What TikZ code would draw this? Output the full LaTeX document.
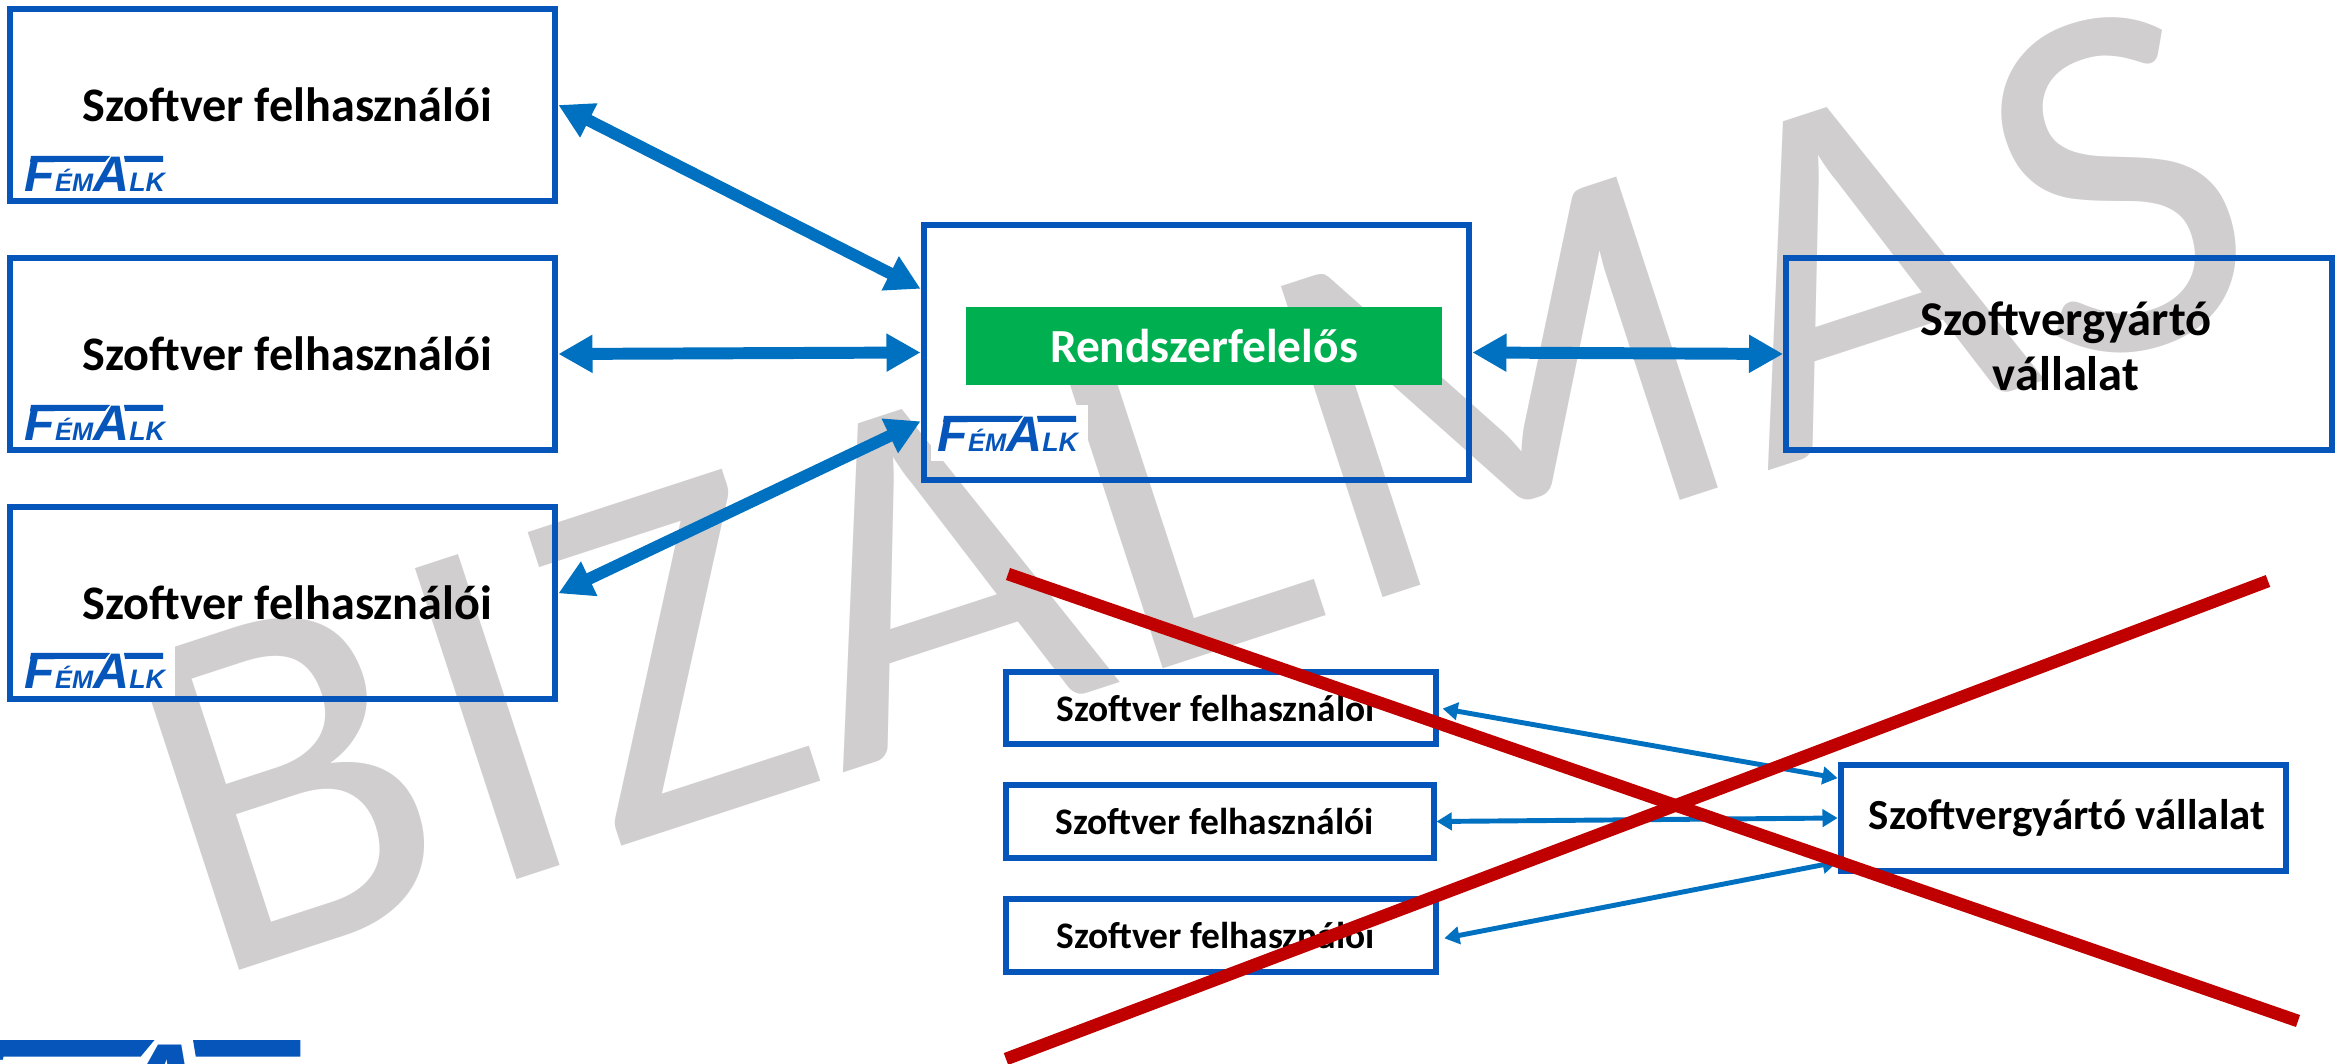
\documentclass[tikz,border=0pt]{standalone}
\usepackage{fontspec}
\setmainfont{Carlito}
\newfontfamily\logofont{Liberation Sans}
\newfontfamily\vizjelfont[LetterSpace=1.8]{Carlito}
\usetikzlibrary{arrows.meta}
\definecolor{kek}{HTML}{0555BB}
\definecolor{nyil}{HTML}{0070C0}
\definecolor{zold}{HTML}{00B050}
\definecolor{voros}{HTML}{C00000}
\definecolor{szurke}{HTML}{D0CECE}
\begin{document}
\begin{tikzpicture}[x=0.01cm, y=-0.01cm]
	\tikzset{
		doboz/.style={rectangle, draw=kek, line width=1.7pt, inner sep=0pt, align=center, font=\bfseries\fontsize{13.7}{15.7}\selectfont},
		nagy/.style={doboz, minimum width=5.455cm, minimum height=1.925cm, execute at begin node={\hspace*{2.8pt}}},
		kicsi/.style={doboz, minimum width=4.30cm, minimum height=0.725cm, font=\bfseries\fontsize{10.65}{12}\selectfont, execute at end node={\hspace*{3pt}}},
		nyilnagy/.style={{Triangle[length=9.7pt, width=10.2pt]}-{Triangle[length=9.7pt, width=10.2pt]}, nyil, line width=3.4pt},
		nyilkicsi/.style={{Triangle[length=4.3pt, width=4.9pt]}-{Triangle[length=4.3pt, width=4.9pt]}, nyil, line width=1.4pt},
		athuzas/.style={voros, line width=3.6pt},
		pics/femalk/.style={code={
			\fill[white] (-6,9) rectangle (151,-47);
			\node[anchor=base west, inner sep=0pt, text=kek, font=\logofont\bfseries\itshape\fontsize{14.2}{14}\selectfont] (-nev) at (0,0)
				{F{\fontsize{7.2}{7}\selectfont ÉM}A{\fontsize{7.6}{7}\selectfont LK}};
			\fill[kek] (7,-36) -- (86,-36) -- (81,-30) -- (6,-30) -- cycle;
			\fill[kek] (100,-36) -- (139,-36) -- (139,-30) -- (101,-30) -- cycle;
		}}
	};
	\useasboundingbox (0,0) rectangle (2338,1064);

	\node[anchor=base west, rotate=18.1, inner sep=0pt, text=szurke, font=\vizjelfont\fontsize{145}{145}\selectfont] (vizjel) at (205,982) {BIZALMAS};

	\pic (l1) at (24,192) {femalk};
	\pic (l2) at (24,441) {femalk};
	\pic (l3) at (24,689) {femalk};
	\pic (l4) at (937,452) {femalk};
	\pic[scale=2.75, transform shape] (l5) at (-82,1139) {femalk};

	\node[nagy] (f1) at (282.5,  105) {Szoftver felhasználói};
	\node[nagy] (f2) at (282.5,  354) {Szoftver felhasználói};
	\node[nagy] (f3) at (282.5,  603) {Szoftver felhasználói};
	\node[nagy, minimum height=2.555cm] (rsz) at (1196.5,352.5) {};
	\node[nagy] (gyarto) at (2059,  354) {};
	\node[doboz, draw=none, font=\bfseries\fontsize{13.8}{15.7}\selectfont] (gyartotxt) at (2066,  346) {Szoftvergyártó\\vállalat};
	\node[minimum width=4.76cm, minimum height=0.78cm, inner sep=0pt, fill=zold, text=white, font=\bfseries\fontsize{13.5}{15}\selectfont] (zold) at (1204,  346) {Rendszerfelelős};

	\node[kicsi] (k1) at (1221,  708) {Szoftver felhasználói};
	\node[kicsi, minimum width=4.27cm] (k2) at (1220,  821.5) {Szoftver felhasználói};
	\node[kicsi] (k3) at (1221,  935.5) {Szoftver felhasználói};
	\node[doboz, minimum width=4.455cm, minimum height=1.065cm, font=\bfseries\fontsize{12.2}{15}\selectfont, execute at begin node={\hspace*{2pt}}] (kgyarto) at (2063.5,  818) {Szoftvergyártó vállalat};

	\draw[nyilnagy] (f1.east) to (rsz.167);
	\draw[nyilnagy] (f2.east) to (rsz.west);
	\draw[nyilnagy] (f3.2) to (rsz.194);
	\draw[nyilnagy] (rsz.east) to (gyarto.west);

	\draw[nyilkicsi, shorten <=1pt] (k1.east) to (kgyarto.170);
	\draw[nyilkicsi] (k2.east) to (kgyarto.west);
	\draw[nyilkicsi, shorten <=1.5pt] (k3.-1) to (kgyarto.191);

	\coordinate (v1a) at (1008,574);
	\coordinate (v1b) at (2298,1021);
	\coordinate (v2a) at (2268,581);
	\coordinate (v2b) at (1006,1059);
	\draw[athuzas] (v1a) to (v1b);
	\draw[athuzas] (v2a) to (v2b);

\end{tikzpicture}
\end{document}
